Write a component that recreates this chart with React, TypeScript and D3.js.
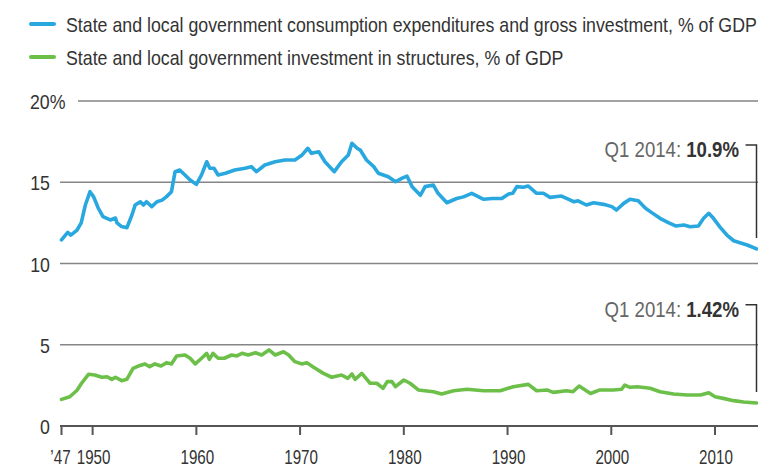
import React from 'react'
import * as d3 from 'd3'

// quarterly-ish readings: [year, % of GDP]
const totalSpending: [number, number][] = [
  [1947.0, 11.45], [1947.6, 11.92], [1947.9, 11.75], [1948.5, 12.06], [1948.9, 12.5],
  [1949.3, 13.6], [1949.75, 14.42], [1950.1, 14.1], [1950.55, 13.4], [1951.0, 12.88],
  [1951.7, 12.68], [1952.2, 12.8], [1952.35, 12.5], [1952.8, 12.27], [1953.3, 12.2],
  [1953.8, 13.0], [1954.1, 13.6], [1954.6, 13.8], [1954.9, 13.6], [1955.2, 13.8],
  [1955.7, 13.5], [1956.2, 13.8], [1956.7, 13.9], [1957.1, 14.1], [1957.6, 14.42],
  [1957.95, 15.65], [1958.4, 15.75], [1958.9, 15.45], [1959.4, 15.14], [1960.0, 14.87],
  [1960.5, 15.45], [1961.0, 16.26], [1961.3, 15.86], [1961.7, 15.86], [1962.1, 15.45],
  [1962.8, 15.55], [1963.7, 15.75], [1964.7, 15.86], [1965.3, 15.96], [1965.8, 15.65],
  [1966.6, 16.06], [1967.6, 16.26], [1968.55, 16.37], [1969.5, 16.37], [1970.2, 16.68],
  [1970.75, 17.09], [1971.1, 16.78], [1971.8, 16.88], [1972.4, 16.26], [1973.3, 15.65],
  [1974.0, 16.26], [1974.65, 16.68], [1975.0, 17.4], [1975.5, 17.09], [1975.8, 16.98],
  [1976.4, 16.37], [1977.1, 15.96], [1977.55, 15.55], [1978.5, 15.34], [1979.2, 15.03],
  [1979.8, 15.24], [1980.3, 15.38], [1980.8, 14.73], [1981.6, 14.2], [1982.05, 14.73],
  [1982.85, 14.83], [1983.3, 14.32], [1984.15, 13.74], [1985.1, 14.0], [1985.75, 14.1],
  [1986.55, 14.32], [1987.7, 13.95], [1988.5, 14.0], [1989.45, 14.0], [1990.1, 14.28],
  [1990.5, 14.32], [1990.9, 14.73], [1991.5, 14.69], [1992.0, 14.77], [1992.8, 14.32],
  [1993.45, 14.32], [1994.1, 14.07], [1994.6, 14.11], [1995.2, 14.15], [1995.9, 13.95],
  [1996.4, 13.8], [1996.8, 13.86], [1997.6, 13.6], [1998.3, 13.74], [1999.25, 13.64],
  [2000.05, 13.5], [2000.5, 13.29], [2001.2, 13.7], [2001.8, 13.95], [2002.6, 13.86],
  [2003.3, 13.4], [2003.9, 13.13], [2004.7, 12.78], [2005.5, 12.51], [2006.2, 12.31],
  [2007.0, 12.37], [2007.6, 12.26], [2008.4, 12.31], [2008.9, 12.78], [2009.4, 13.09],
  [2009.85, 12.78], [2010.5, 12.22], [2011.15, 11.75], [2011.8, 11.4], [2012.4, 11.28],
  [2013.1, 11.14], [2014.0, 10.9],
]

const structures: [number, number][] = [
  [1947.0, 1.64], [1947.8, 1.8], [1948.5, 2.2], [1948.9, 2.6], [1949.6, 3.18],
  [1950.2, 3.14], [1950.9, 3.0], [1951.4, 3.03], [1951.85, 2.87], [1952.2, 3.0],
  [1952.8, 2.79], [1953.3, 2.87], [1953.9, 3.55], [1954.4, 3.69], [1955.05, 3.82],
  [1955.5, 3.65], [1956.0, 3.82], [1956.6, 3.69], [1957.15, 3.9], [1957.6, 3.82],
  [1958.1, 4.31], [1958.9, 4.37], [1959.4, 4.17], [1959.9, 3.82], [1960.5, 4.17],
  [1961.0, 4.47], [1961.25, 4.1], [1961.6, 4.47], [1962.1, 4.17], [1962.7, 4.17],
  [1963.4, 4.37], [1963.9, 4.31], [1964.4, 4.47], [1965.0, 4.37], [1965.7, 4.51],
  [1966.3, 4.37], [1967.0, 4.68], [1967.6, 4.37], [1968.4, 4.57], [1968.9, 4.37],
  [1969.5, 3.96], [1970.2, 3.82], [1970.65, 3.9], [1971.3, 3.61], [1972.25, 3.24],
  [1973.05, 3.0], [1974.0, 3.14], [1974.6, 2.93], [1975.0, 3.2], [1975.3, 2.87],
  [1975.95, 3.24], [1976.75, 2.63], [1977.4, 2.63], [1978.0, 2.32], [1978.4, 2.73],
  [1978.85, 2.73], [1979.2, 2.42], [1980.0, 2.83], [1980.6, 2.63], [1981.4, 2.22],
  [1982.85, 2.11], [1983.65, 1.97], [1984.8, 2.17], [1986.1, 2.26], [1987.7, 2.17],
  [1989.3, 2.17], [1990.55, 2.42], [1992.0, 2.56], [1992.8, 2.17], [1993.8, 2.22],
  [1994.4, 2.07], [1995.7, 2.17], [1996.3, 2.11], [1996.9, 2.46], [1998.0, 2.0],
  [1998.9, 2.22], [2000.2, 2.22], [2001.0, 2.26], [2001.3, 2.52], [2001.8, 2.38],
  [2002.5, 2.42], [2003.75, 2.32], [2004.7, 2.11], [2006.0, 1.97], [2007.3, 1.91],
  [2008.6, 1.91], [2009.4, 2.05], [2010.0, 1.8], [2010.8, 1.7], [2011.8, 1.56],
  [2012.75, 1.48], [2014.0, 1.42],
]

const legendLabels = [
  'State and local government consumption expenditures and gross investment, % of GDP',
  'State and local government investment in structures, % of GDP',
]
const yTicks = [0, 5, 10, 15, 20]
const xTicks = [1947, 1950, 1960, 1970, 1980, 1990, 2000, 2010]
const latestLabels = ['10.9%', '1.42%']

const BLUE = '#29a8e0'
const GREEN = '#6cc04a'
const FONT = '"Liberation Sans", Arial, sans-serif'

// no condensed face installed, so squeeze text horizontally
const CText = ({ x, y, anchor = 'start', size = 21, squeeze = 0.846, children, ...rest }: any) => (
  <text transform={`translate(${x},${y}) scale(${squeeze},1)`} textAnchor={anchor} fontSize={size} {...rest}>
    {children}
  </text>
)

export default function App() {
  const W = 758
  const H = 470
  const x = d3.scaleLinear().domain([1947, 2014]).range([61.5, 756.5])
  const y = d3.scaleLinear().domain([0, 20]).range([426, 101])

  const line = d3.line<[number, number]>()
    .x((d) => x(d[0]))
    .y((d) => y(d[1]))

  const series = [
    { data: totalSpending, color: BLUE },
    { data: structures, color: GREEN },
  ]

  const endX = x(2014)

  return (
    <svg width={W} height={H} style={{ position: 'absolute', left: 0, top: 0, display: 'block', background: '#fff' }}
      fontFamily={FONT}>
      {/* legend */}
      {legendLabels.map((t, i) => (
        <g key={t} transform={`translate(0,${24 + i * 33})`}>
          <line x1={31} x2={54} y1={0} y2={0} stroke={series[i].color} strokeWidth={4} strokeLinecap="round" />
          <CText x={66} y={8} fill="#333">{t}</CText>
        </g>
      ))}

      {/* grid */}
      {yTicks.filter((v) => v > 0).map((v) => (
        <line key={v} x1={v === 20 ? 78 : 60} x2={W} y1={y(v)} y2={y(v)} stroke="#858585" strokeWidth={1.5} />
      ))}
      {yTicks.map((v) => (
        v === 20
          ? <CText key={'l' + v} x={30} y={y(v) + 8} fill="#333">20%</CText>
          : <CText key={'l' + v} x={50} y={y(v) + 8} fill="#333" anchor="end">{v}</CText>
      ))}

      {/* x axis */}
      <line x1={60} x2={W} y1={y(0)} y2={y(0)} stroke="#555" strokeWidth={2} />
      {xTicks.map((t) => (
        <g key={t} transform={`translate(${x(t)},${y(0)})`}>
          <line y1={0} y2={9} stroke="#555" strokeWidth={2} />
          <CText x={t === 1947 ? -1 : 1} y={37.5} size={20} squeeze={0.76} fill="#333" anchor="middle">
            {t === 1947 ? '\u201947' : t}
          </CText>
        </g>
      ))}

      {/* series */}
      {series.map((s, i) => (
        <path key={i} d={line(s.data) || ''} fill="none" stroke={s.color} strokeWidth={3.6}
          strokeLinejoin="round" strokeLinecap="round" />
      ))}

      {/* latest value callouts */}
      {[y(20) + 44, y(5) - 40].map((ty, i) => {
        const last = series[i].data[series[i].data.length - 1]
        return (
          <g key={'c' + i}>
            <path d={`M${endX - 11},${ty}H${endX}V${y(last[1]) - 11}`} fill="none" stroke="#333" strokeWidth={1.5} />
            <CText x={739} y={ty + 12} size={22} anchor="end">
              <tspan fill="#666">Q1 2014: </tspan>
              <tspan fill="#333" fontWeight="bold">{latestLabels[i]}</tspan>
            </CText>
          </g>
        )
      })}
    </svg>
  )
}
